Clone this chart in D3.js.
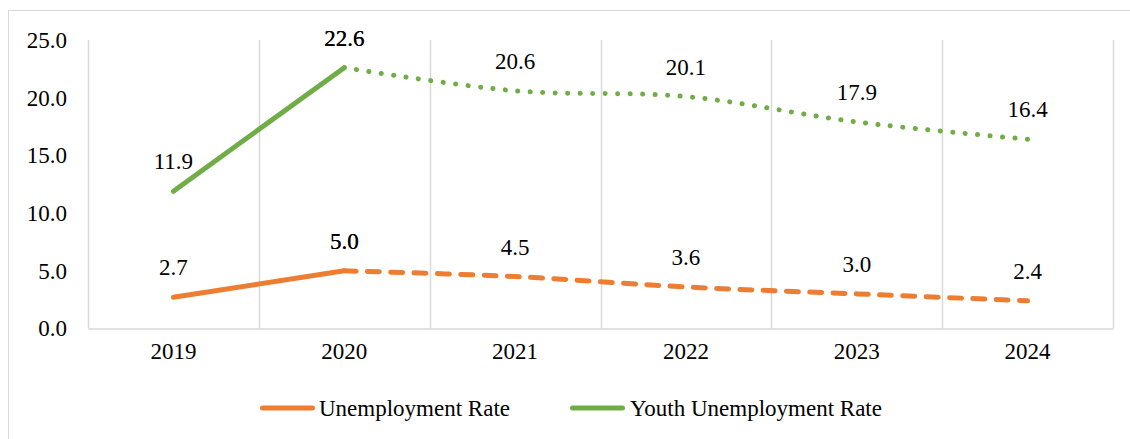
<!DOCTYPE html>
<html>
<head>
<meta charset="utf-8">
<script src="https://cdn.jsdelivr.net/npm/d3@7"></script>
<style>
  html, body { margin: 0; padding: 0; background: #fff; }
  svg { display: block; }
  svg text { font-family: "Liberation Serif", "Times New Roman", Tinos, Times, "DejaVu Serif", serif !important; fill: #000; }
</style>
</head>
<body>
<svg id="chart" width="1130" height="439"></svg>
<script>
const years = ["2019", "2020", "2021", "2022", "2023", "2024"];
const unemployment = [2.7, 5.0, 4.5, 3.6, 3.0, 2.4];
const youthUnemployment = [11.9, 22.6, 20.6, 20.1, 17.9, 16.4];
const yTicks = [0, 5, 10, 15, 20, 25];
const seriesNames = ["Unemployment Rate", "Youth Unemployment Rate"];
const actualCount = 2; // 2019-2020 actual (solid), 2020 onward projected

const W = 1130, H = 439;
const margin = { left: 88, right: 17, top: 40, bottom: 110 };
const svg = d3.select("#chart");
const fs = 23;
const FONT = '"Liberation Serif", "Times New Roman", Tinos, Times, "DejaVu Serif", serif';

// outer border
svg.append("rect").attr("x", 8.5).attr("y", 10.5).attr("width", 1140).attr("height", 500)
  .attr("fill", "none").attr("stroke", "#d9d9d9").attr("stroke-width", 1);

const x = d3.scaleBand().domain(years).range([margin.left, W - margin.right]);
const y = d3.scaleLinear().domain([0, 25]).range([328.5, 40]);

// vertical category gridlines
const bounds = years.map(d => x(d)).concat([x.range()[1]]);
svg.append("g").selectAll("line").data(bounds).join("line")
  .attr("x1", d => Math.round(d) + 0.5).attr("x2", d => Math.round(d) + 0.5)
  .attr("y1", y(25)).attr("y2", y(0))
  .attr("stroke", "#d9d9d9").attr("stroke-width", 1.5);

// bottom axis
const xAxis = svg.append("g").attr("transform", `translate(0,${y(0)})`)
  .call(d3.axisBottom(x).tickSize(0).tickPadding(14));
xAxis.attr("font-family", null).attr("font-size", null);
xAxis.select(".domain").attr("stroke", "#d9d9d9").attr("stroke-width", 1.5);
xAxis.selectAll("text").style("font-size", fs + "px").style("font-family", FONT).attr("fill", "#000");

// left axis labels
const yAxis = svg.append("g").attr("transform", `translate(${margin.left},0)`)
  .call(d3.axisLeft(y).tickValues(yTicks).tickFormat(d3.format(".1f")).tickSize(0).tickPadding(21));
yAxis.attr("font-family", null).attr("font-size", null);
yAxis.select(".domain").remove();
yAxis.selectAll("text").style("font-size", fs + "px").style("font-family", FONT).attr("fill", "#000");

const cx = d => x(d) + x.bandwidth() / 2;

const series = [
  { name: seriesNames[0], values: unemployment, color: "#ED7D31", dash: "12,11.3" },
  { name: seriesNames[1], values: youthUnemployment, color: "#70AD47", dash: "0.1,12.4" }
];

const lineStraight = d3.line().x(d => cx(d.year)).y(d => y(d.value));
const lineSmooth = d3.line().x(d => cx(d.year)).y(d => y(d.value)).curve(d3.curveCardinal.tension(0));

series.forEach(s => {
  const pts = years.map((yr, i) => ({ year: yr, value: s.values[i] }));
  const actual = pts.slice(0, actualCount);
  const proj = pts.slice(actualCount - 1);
  svg.append("path").attr("d", lineStraight(actual))
    .attr("fill", "none").attr("stroke", s.color).attr("stroke-width", 5)
    .attr("stroke-linecap", "round").attr("stroke-linejoin", "round");
  svg.append("path").attr("d", lineSmooth(proj))
    .attr("fill", "none").attr("stroke", s.color).attr("stroke-width", 5)
    .attr("stroke-linecap", "round").attr("stroke-dasharray", s.dash);
  [actual, proj].forEach(group => {
    svg.append("g").selectAll("text").data(group).join("text")
      .attr("x", d => cx(d.year)).attr("y", d => y(d.value) - 22)
      .attr("text-anchor", "middle").style("font-size", fs + "px").style("font-family", FONT)
      .text(d => d3.format(".1f")(d.value));
  });
});

// legend
const legend = [
  { name: seriesNames[0], color: "#ED7D31", x1: 260, x2: 315, tx: 319 },
  { name: seriesNames[1], color: "#70AD47", x1: 570, x2: 625, tx: 630 }
];
const lg = svg.append("g");
legend.forEach(l => {
  lg.append("line").attr("x1", l.x1 + 2.5).attr("x2", l.x2 - 2.5).attr("y1", 408).attr("y2", 408)
    .attr("stroke", l.color).attr("stroke-width", 5).attr("stroke-linecap", "round");
  lg.append("text").attr("x", l.tx).attr("y", 416).style("font-size", fs + "px").style("font-family", FONT).text(l.name);
});
</script>
</body>
</html>
